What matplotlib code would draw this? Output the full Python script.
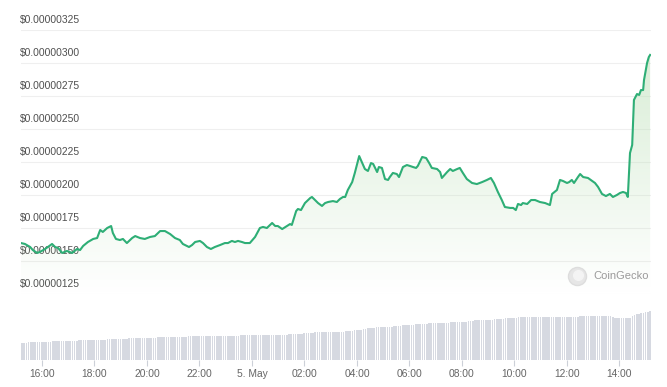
import numpy as np
import pandas as pd
import matplotlib
matplotlib.use("Agg")
import matplotlib.pyplot as plt
import matplotlib.dates as mdates
from matplotlib.patches import Polygon
from matplotlib.lines import Line2D

plt.rcParams["font.family"] = ["Liberation Sans", "DejaVu Sans"]

# price series: minutes after 4 May 16:00, price in millionths of a dollar
price_min = [
    -48, -39, -27, -21, -11, -5, 7, 23, 30, 37, 46, 57, 69, 80, 87, 94, 105, 117, 126,
    133, 139, 149, 158, 162, 169, 178, 185, 194, 206, 213, 224, 235, 247, 258, 270,
    281, 293, 304, 315, 322, 331, 336, 343, 350, 361, 368, 377, 386, 395, 407, 418,
    425, 434, 441, 448, 457, 464, 475, 487, 498, 505, 514, 526, 533, 539, 549, 560,
    567, 571, 581, 585, 592, 601, 613, 617, 624, 631, 640, 647, 654, 665, 674, 681,
    688, 693, 699, 709, 715, 725, 731, 738, 745, 752, 757, 766, 770, 777, 784, 791,
    795, 802, 811, 816, 825, 834, 841, 848, 855, 859, 869, 878, 885, 891, 903, 910,
    914, 926, 933, 939, 949, 955, 962, 971, 983, 994, 1006, 1017, 1026, 1033, 1042,
    1051, 1058, 1070, 1077, 1083, 1088, 1095, 1099, 1109, 1118, 1127, 1138, 1150,
    1161, 1166, 1177, 1184, 1191, 1200, 1205, 1211, 1216, 1225, 1230, 1237, 1248,
    1264, 1271, 1280, 1289, 1298, 1305, 1314, 1321, 1328, 1335, 1339, 1344, 1349,
    1353, 1360, 1365, 1369, 1374, 1376, 1383, 1387, 1390,
]
price_e6 = [
    1.636, 1.629, 1.606, 1.583, 1.561, 1.568, 1.591, 1.629, 1.606, 1.598, 1.561, 1.576,
    1.561, 1.591, 1.583, 1.614, 1.644, 1.667, 1.674, 1.735, 1.720, 1.750, 1.765, 1.712,
    1.667, 1.659, 1.667, 1.636, 1.674, 1.689, 1.674, 1.667, 1.682, 1.689, 1.727, 1.727,
    1.704, 1.674, 1.659, 1.629, 1.614, 1.606, 1.621, 1.644, 1.652, 1.636, 1.606, 1.591,
    1.606, 1.621, 1.636, 1.636, 1.652, 1.644, 1.652, 1.644, 1.636, 1.636, 1.682, 1.750,
    1.758, 1.750, 1.788, 1.765, 1.765, 1.742, 1.765, 1.780, 1.773, 1.879, 1.894, 1.886,
    1.939, 1.977, 1.985, 1.962, 1.939, 1.917, 1.939, 1.947, 1.954, 1.947, 1.970, 1.985,
    1.985, 2.038, 2.098, 2.167, 2.295, 2.250, 2.197, 2.182, 2.242, 2.235, 2.174, 2.212,
    2.205, 2.121, 2.114, 2.136, 2.167, 2.159, 2.136, 2.212, 2.227, 2.220, 2.212, 2.205,
    2.220, 2.288, 2.280, 2.242, 2.205, 2.197, 2.174, 2.129, 2.174, 2.197, 2.182, 2.197,
    2.205, 2.167, 2.121, 2.091, 2.083, 2.098, 2.114, 2.129, 2.091, 2.023, 1.962, 1.909,
    1.902, 1.902, 1.886, 1.932, 1.924, 1.939, 1.932, 1.962, 1.962, 1.947, 1.939, 1.924,
    2.008, 2.038, 2.114, 2.106, 2.091, 2.098, 2.114, 2.091, 2.136, 2.159, 2.136, 2.129,
    2.091, 2.061, 2.008, 1.992, 2.008, 1.985, 2.000, 2.015, 2.023, 2.015, 1.985, 2.318,
    2.379, 2.720, 2.765, 2.758, 2.795, 2.795, 2.871, 3.000, 3.045, 3.061,
]

# 24h volume, one bar per 5 minutes, one row per hour (relative units)
volume = [
    17, 17, 17, 18, 18, 18, 18, 18, 18, 18, 18, 18,
    18, 18, 19, 19, 19, 19, 19, 19, 19, 19, 19, 19,
    19, 19, 20, 20, 20, 20, 20, 20, 20, 20, 20, 20,
    20, 20, 20, 21, 21, 21, 21, 21, 21, 21, 21, 21,
    21, 22, 22, 22, 22, 22, 22, 22, 22, 22, 22, 22,
    22, 22, 23, 23, 23, 23, 23, 23, 23, 23, 23, 23,
    23, 23, 23, 23, 24, 24, 24, 24, 24, 24, 24, 24,
    24, 24, 24, 24, 24, 24, 24, 24, 24, 24, 24, 24,
    24, 24, 24, 24, 25, 25, 25, 25, 25, 25, 25, 25,
    25, 25, 25, 25, 25, 25, 25, 25, 25, 25, 25, 25,
    25, 25, 26, 26, 26, 26, 26, 26, 26, 27, 27, 27,
    27, 27, 28, 28, 28, 28, 28, 28, 28, 28, 28, 28,
    28, 28, 28, 28, 29, 29, 29, 29, 30, 30, 30, 30,
    31, 31, 32, 32, 32, 32, 33, 33, 33, 33, 33, 33,
    33, 33, 34, 34, 34, 34, 35, 35, 35, 35, 35, 35,
    36, 36, 36, 36, 36, 36, 37, 37, 37, 37, 37, 37,
    37, 37, 37, 37, 38, 38, 38, 38, 38, 38, 38, 38,
    39, 39, 39, 40, 40, 40, 40, 40, 40, 40, 40, 40,
    41, 41, 41, 41, 41, 42, 42, 42, 42, 42, 42, 43,
    43, 43, 43, 43, 43, 43, 43, 43, 43, 43, 43, 43,
    43, 43, 43, 43, 43, 43, 43, 43, 43, 43, 43, 43,
    43, 43, 43, 44, 44, 44, 44, 44, 44, 44, 44, 44,
    44, 44, 44, 44, 44, 44, 43, 42, 42, 42, 42, 42,
    42, 42, 42, 44, 45, 46, 46, 47, 47, 48, 48, 49,
]

y_ticks = [1.25, 1.50, 1.75, 2.00, 2.25, 2.50, 2.75, 3.00, 3.25]

base = pd.Timestamp("2023-05-04 16:00")
t_start = base + pd.Timedelta(minutes=-48)
t_end = base + pd.Timedelta(minutes=1392)
t = mdates.date2num(base + pd.to_timedelta(price_min, unit="min"))
t_vol = mdates.date2num(t_start + pd.to_timedelta(np.arange(len(volume)) * 5 + 2.5, unit="min"))
x0, x1 = mdates.date2num(t_start), mdates.date2num(t_end)

W, H = 667, 387
fig = plt.figure(figsize=(W / 100, H / 100), dpi=100)


def px_axes(left, top, right, bottom):
    return fig.add_axes([left / W, 1 - bottom / H, (right - left) / W, (bottom - top) / H])


ax = px_axes(21, 30, 651, 294)
axv = px_axes(21, 310, 651, 360)

green = "#2eae76"
ax.set_xlim(x0, x1)
ax.set_ylim(1.25, 3.25)
for v in y_ticks:
    ax.axhline(v, color="#efefef", lw=0.8, zorder=0)
    ax.annotate(f"${v / 1e6:.8f}", xy=(0, v), xycoords=("axes fraction", "data"),
                xytext=(-0.5, 3.6), textcoords="offset points",
                ha="left", va="bottom", fontsize=7.4, color="#4f4f4f", zorder=1)

# gradient fill under the line
verts = list(zip(t, price_e6)) + [(t[-1], 1.25), (t[0], 1.25)]
poly = Polygon(verts, closed=True, facecolor="none", edgecolor="none")
ax.add_patch(poly)
grad = np.linspace(1, 0, 256).reshape(-1, 1)
img = np.zeros((256, 1, 4))
img[..., 0], img[..., 1], img[..., 2] = 0.74, 0.88, 0.72
img[..., 3] = 0.62 * grad
im = ax.imshow(img, extent=[x0, x1, 1.25, 3.25], aspect="auto", origin="upper", zorder=2)
im.set_clip_path(poly)

ax.plot(t, price_e6, color=green, lw=1.5, zorder=3, solid_joinstyle="round")
ax.set_xticks([])
ax.set_yticks([])
for s in ax.spines.values():
    s.set_visible(False)

# watermark
fig.add_artist(Line2D([577 / W], [1 - 276 / H], marker="o", markersize=13,
                      color="#e6e6e6", markeredgecolor="#dddddd", lw=0))
fig.add_artist(Line2D([578 / W], [1 - 275 / H], marker="o", markersize=7,
                      color="#f4f4f4", lw=0))
fig.text(593 / W, 1 - 276 / H, "CoinGecko", fontsize=8, color="#9a9a9a",
         ha="left", va="center")

# volume pane
axv.bar(t_vol, volume, width=5 / 1440 * 0.72, color="#d6d9e1", linewidth=0)
axv.set_xlim(x0, x1)
axv.set_ylim(0, 50)
axv.xaxis.set_major_locator(mdates.HourLocator(byhour=range(0, 24, 2)))
axv.xaxis.set_major_formatter(plt.FuncFormatter(
    lambda v, p: "5. May" if mdates.num2date(v).hour == 0 else mdates.num2date(v).strftime("%H:%M")))
axv.tick_params(axis="x", length=4, width=0.8, color="#ccd0d8", pad=2.5,
                labelsize=7.4, labelcolor="#666666")
axv.set_yticks([])
for s in axv.spines.values():
    s.set_visible(False)

fig.savefig("out.png", dpi=100)
